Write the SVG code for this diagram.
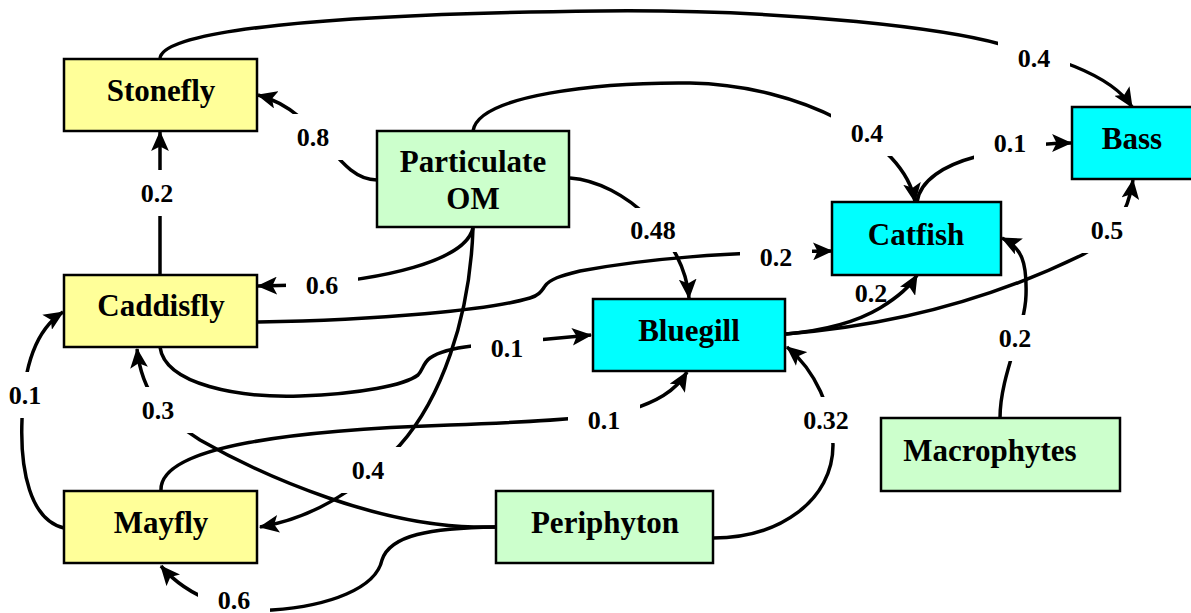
<svg xmlns="http://www.w3.org/2000/svg" width="1191" height="613" viewBox="0 0 1191 613">
<style>
.box{stroke:#000;stroke-width:2.5}
.y{fill:#FFFF99}.g{fill:#CCFFCC}.c{fill:#00FFFF}
.nt{font-family:"Liberation Serif","Times New Roman",serif;font-weight:bold;font-size:31px;text-anchor:middle;fill:#000}
.e{fill:none;stroke:#000;stroke-width:3.5;marker-end:url(#ah)}
.n{fill:none;stroke:#000;stroke-width:3.5}
.lb rect{fill:#fff}
.lb text{font-family:"Liberation Serif","Times New Roman",serif;font-weight:bold;font-size:26px;text-anchor:middle;fill:#000}
</style>
<defs>
<marker id="ah" markerUnits="userSpaceOnUse" markerWidth="20" markerHeight="18" viewBox="0 0 18 16" refX="17" refY="8" orient="auto">
<path d="M0,0 L18,8 L0,16 L4,8 z" fill="#000"/>
</marker>
</defs>
<rect width="1191" height="613" fill="#fff"/>
<g id="connectors">
<path class="e" d="M160,59 C160,30 330,14 600,11 C800,9 950,30 1000,44 C1045,55 1110,72 1132,107"/>
<path class="e" d="M377,180 C335,180 322,112 258,95"/>
<path class="e" d="M160,275 L160,132"/>
<path class="e" d="M473,228 C465,262 380,280 300,285 L258,286"/>
<path class="e" d="M473,131 C478,95 600,82 690,83 C800,85 905,140 915,202"/>
<path class="e" d="M570,178 C625,182 685,240 689,298"/>
<path class="e" d="M258,322 C380,320 490,310 530,298 C540,295 542,290 545,286 C550,279 560,276 580,271 C650,258 720,253 832,251"/>
<path class="e" d="M160,347 C165,385 240,398 300,396 C360,394 405,385 418,375 C423,370 423,363 430,358 C440,351 455,348 472,346 L591,335"/>
<path class="e" d="M473,228 C470,320 440,400 400,445 C375,472 330,515 260,527"/>
<path class="e" d="M64,528 C30,520 20,470 22,420 C23,370 35,330 63,312"/>
<path class="e" d="M496,527 L474,527 C380,525 270,480 200,440 C165,418 142,395 137,349"/>
<path class="e" d="M161,490 C160,445 300,430 450,425 C540,422 600,418 630,410 C655,402 675,392 687,372"/>
<path class="e" d="M496,527 C430,528 390,535 382,560 C376,588 330,606 272,610 C235,612 190,600 161,566"/>
<path class="e" d="M713,538 C780,538 833,500 833,445 C833,410 815,370 787,347"/>
<path class="e" d="M786,334 C830,330 860,320 880,308 C898,297 910,287 917,275"/>
<path class="e" d="M786,334 C900,325 1000,295 1082,255 C1110,240 1128,215 1133,180"/>
<path class="e" d="M917,202 C920,180 945,165 975,157 C1005,149 1040,143 1071,143"/>
<path class="e" d="M1000,418 C1000,375 1025,330 1026,295 C1027,262 1022,248 1002,238"/>
</g>
<g id="labels" class="lb">
<rect x="998" y="35" width="72" height="46"/><text x="1034" y="67">0.4</text>
<rect x="277" y="114" width="72" height="46"/><text x="313" y="146">0.8</text>
<rect x="121" y="170" width="72" height="46"/><text x="157" y="202">0.2</text>
<rect x="286" y="262" width="72" height="46"/><text x="322" y="294">0.6</text>
<rect x="831" y="110" width="72" height="46"/><text x="867" y="142">0.4</text>
<rect x="610" y="208" width="86" height="44"/><text x="653" y="239">0.48</text>
<rect x="740" y="234" width="72" height="46"/><text x="776" y="266">0.2</text>
<rect x="471" y="325" width="72" height="46"/><text x="507" y="357">0.1</text>
<rect x="332" y="447" width="72" height="46"/><text x="368" y="479">0.4</text>
<rect x="-11" y="372" width="72" height="46"/><text x="25" y="404">0.1</text>
<rect x="122" y="387" width="72" height="46"/><text x="158" y="419">0.3</text>
<rect x="568" y="397" width="72" height="46"/><text x="604" y="429">0.1</text>
<rect x="198" y="578" width="72" height="35"/><text x="234" y="609">0.6</text>
<rect x="783" y="397" width="86" height="46"/><text x="826" y="429">0.32</text>
<text x="871" y="302">0.2</text>
<rect x="1071" y="207" width="72" height="46"/><text x="1107" y="239">0.5</text>
<rect x="974" y="120" width="72" height="46"/><text x="1010" y="152">0.1</text>
<rect x="979" y="315" width="72" height="46"/><text x="1015" y="347">0.2</text>
</g>
<g id="stonefly"><rect class="box y" x="64" y="59" width="193" height="72"/><text class="nt" x="161" y="101">Stonefly</text></g>
<g id="particulate-om"><rect class="box g" x="377" y="131" width="192" height="96"/><text class="nt" x="473" y="172">Particulate</text><text class="nt" x="473" y="209">OM</text></g>
<g id="caddisfly"><rect class="box y" x="64" y="275" width="193" height="72"/><text class="nt" x="161" y="316">Caddisfly</text></g>
<g id="mayfly"><rect class="box y" x="64" y="491" width="193" height="72"/><text class="nt" x="161" y="533">Mayfly</text></g>
<g id="periphyton"><rect class="box g" x="496" y="491" width="217" height="72"/><text class="nt" x="605" y="533">Periphyton</text></g>
<g id="macrophytes"><rect class="box g" x="881" y="418" width="239" height="73"/><text class="nt" x="990" y="461">Macrophytes</text></g>
<g id="bluegill"><rect class="box c" x="593" y="299" width="192" height="72"/><text class="nt" x="689" y="341">Bluegill</text></g>
<g id="catfish"><rect class="box c" x="832" y="202" width="169" height="73"/><text class="nt" x="916" y="245">Catfish</text></g>
<g id="bass"><rect class="box c" x="1072" y="107" width="125" height="72"/><text class="nt" x="1132" y="149">Bass</text></g>
</svg>
